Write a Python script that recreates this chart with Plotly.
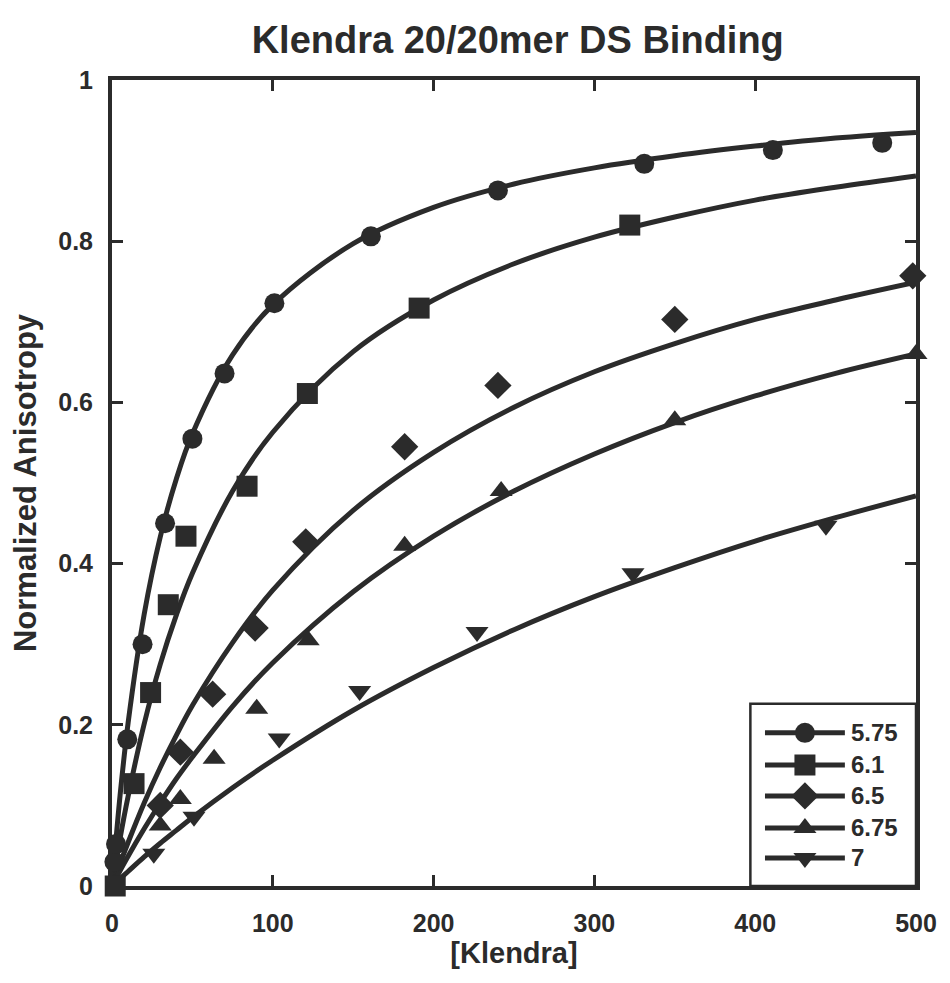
import plotly.graph_objects as go

# Measured anisotropy at each pH
x_575 = [1.5, 2.5, 9.5, 19, 33, 50, 70, 101, 161, 240, 331, 411, 479]
y_575 = [0.03, 0.052, 0.182, 0.30, 0.45, 0.555, 0.636, 0.723, 0.806, 0.863, 0.896, 0.913, 0.922]

x_61 = [2, 13.7, 24, 35, 46, 84, 121.5, 191, 322]
y_61 = [0.0, 0.127, 0.24, 0.349, 0.434, 0.496, 0.611, 0.717, 0.82]

x_65 = [30, 42.5, 62.6, 89, 120.5, 182, 240, 350, 498]
y_65 = [0.10, 0.166, 0.238, 0.32, 0.427, 0.545, 0.621, 0.703, 0.757]

x_675 = [30, 42.5, 63.5, 90, 122, 182, 242, 350, 500]
y_675 = [0.075, 0.108, 0.158, 0.22, 0.305, 0.422, 0.49, 0.578, 0.66]

x_7 = [26, 51, 104, 154, 227, 324, 444]
y_7 = [0.04, 0.086, 0.183, 0.242, 0.315, 0.388, 0.447]

# Binding-fit curves, sampled along [Klendra]
fit_x = [0, 5, 10, 20, 30, 40, 50, 75, 100, 150, 200, 250, 300, 350, 400, 450, 500]
fit_575 = [0, 0.112, 0.202, 0.337, 0.433, 0.505, 0.561, 0.659, 0.721, 0.797, 0.842, 0.871, 0.891, 0.906, 0.918, 0.928, 0.935]
fit_61 = [0, 0.059, 0.111, 0.201, 0.275, 0.336, 0.388, 0.490, 0.563, 0.663, 0.727, 0.772, 0.805, 0.830, 0.851, 0.867, 0.881]
fit_65 = [0, 0.028, 0.054, 0.103, 0.147, 0.187, 0.224, 0.302, 0.367, 0.466, 0.538, 0.594, 0.638, 0.673, 0.703, 0.727, 0.749]
fit_675 = [0, 0.019, 0.037, 0.071, 0.103, 0.133, 0.160, 0.223, 0.277, 0.365, 0.434, 0.490, 0.536, 0.575, 0.608, 0.636, 0.660]
fit_7 = [0, 0.009, 0.018, 0.036, 0.053, 0.069, 0.085, 0.122, 0.156, 0.218, 0.271, 0.318, 0.359, 0.395, 0.428, 0.457, 0.484]

series_names = ["5.75", "6.1", "6.5", "6.75", "7"]
x_tick_vals = [0, 100, 200, 300, 400, 500]
y_tick_vals = [0, 0.2, 0.4, 0.6, 0.8, 1]
y_tick_text = ["0", "0.2", "0.4", "0.6", "0.8", "1"]

INK = "#2b2b2b"
FONT = "Liberation Sans, Arial, sans-serif"
symbols = ["circle", "square", "diamond", "triangle-up", "triangle-down"]
msizes = [20, 21, 21, 20, 20]

data = [(x_575, y_575), (x_61, y_61), (x_65, y_65), (x_675, y_675), (x_7, y_7)]
fits = [fit_575, fit_61, fit_65, fit_675, fit_7]

fig = go.Figure()

for fy in fits:
    fig.add_trace(go.Scatter(x=fit_x, y=fy, mode="lines", line=dict(color=INK, width=5, shape="spline"),
                             showlegend=False, hoverinfo="skip"))

for (dx, dy), sym, ms, nm in zip(data, symbols, msizes, series_names):
    fig.add_trace(go.Scatter(x=dx, y=dy, mode="markers", name=nm, showlegend=False,
                             marker=dict(symbol=sym, size=ms, color=INK, line=dict(width=0)),
                             cliponaxis=False))

# Legend drawn in its own small axis box in the lower-right corner
leg_rows = [153, 121, 90, 58, 28]
for row, sym, ms, nm in zip(leg_rows, symbols, msizes, series_names):
    fig.add_trace(go.Scatter(x=[15, 97], y=[row, row], xaxis="x2", yaxis="y2", mode="lines",
                             line=dict(color=INK, width=5), showlegend=False, hoverinfo="skip"))
    fig.add_trace(go.Scatter(x=[56], y=[row], xaxis="x2", yaxis="y2", mode="markers",
                             marker=dict(symbol=sym, size=ms, color=INK), showlegend=False, hoverinfo="skip"))
    fig.add_annotation(x=101, y=row, xref="x2", yref="y2", text="<b>%s</b>" % nm, showarrow=False,
                       xanchor="left", yanchor="middle", font=dict(family=FONT, size=24, color=INK))

axis_common = dict(showline=True, linecolor=INK, linewidth=4, mirror="allticks", ticks="inside",
                   ticklen=11, tickwidth=3, tickcolor=INK, showgrid=False, zeroline=False,
                   tickfont=dict(family=FONT, size=25, color=INK, weight="bold"))

fig.update_layout(
    width=950, height=983,
    margin=dict(l=112, r=34, t=80, b=97),
    paper_bgcolor="white", plot_bgcolor="white",
    title=dict(text="<b>Klendra 20/20mer DS Binding</b>", x=0.545, xanchor="center", y=0.96, yanchor="middle",
               font=dict(family=FONT, size=38, color=INK)),
    xaxis=dict(range=[0, 500], tickvals=x_tick_vals, ticklabelstandoff=12,
               title=dict(text="<b>[Klendra]</b>", font=dict(family=FONT, size=29, color=INK), standoff=0),
               **axis_common),
    yaxis=dict(range=[0, 1], tickvals=y_tick_vals, ticktext=y_tick_text, ticklabelstandoff=10,
               title=dict(text="<b>Normalized Anisotropy</b>", font=dict(family=FONT, size=31, color=INK), standoff=13),
               **axis_common),
    xaxis2=dict(domain=[0.794, 1.0], range=[0, 170], anchor="y2", visible=False, fixedrange=True),
    yaxis2=dict(domain=[0.0, 0.226], range=[0, 182], anchor="x2", visible=False, fixedrange=True),
    shapes=[dict(type="rect", xref="paper", yref="paper", x0=0.794, x1=1.0, y0=0.0, y1=0.226,
                 line=dict(color=INK, width=2.5), fillcolor="rgba(0,0,0,0)")],
    showlegend=False,
)

fig.write_html("out.html")
